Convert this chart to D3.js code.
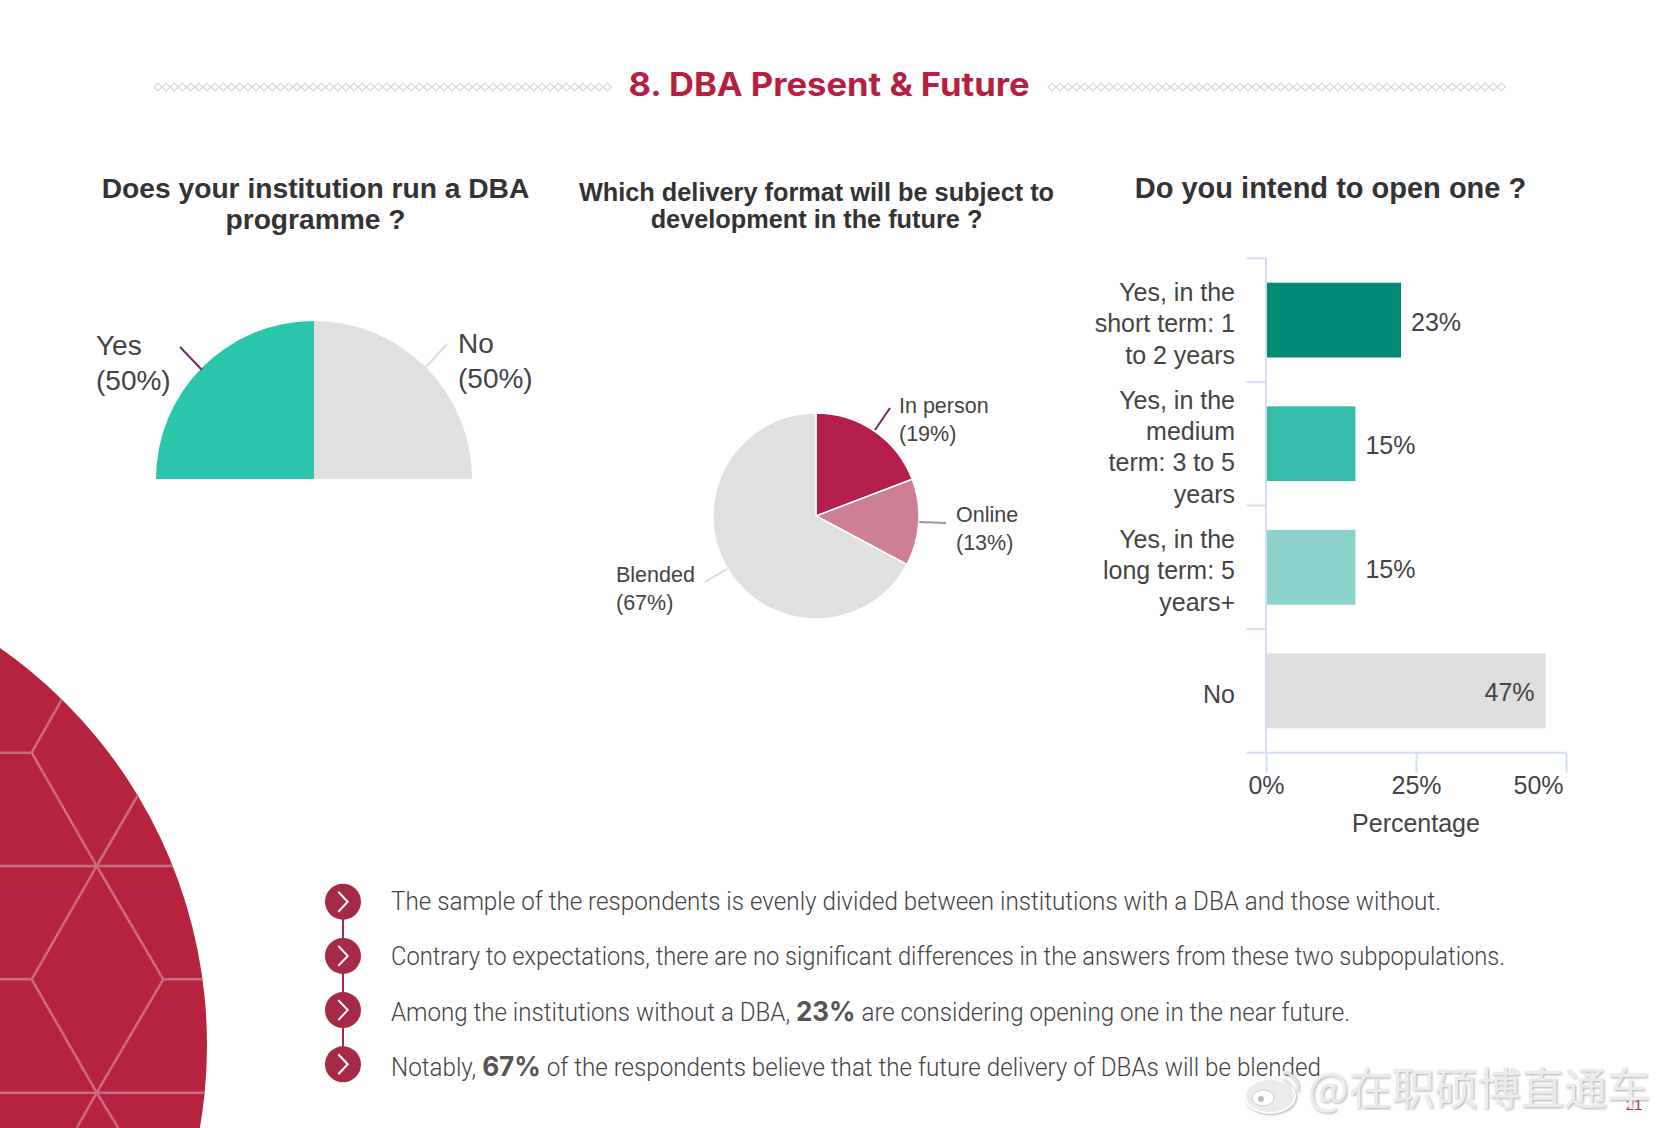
<!DOCTYPE html>
<html lang="en">
<head>
<meta charset="utf-8">
<title>8. DBA Present &amp; Future</title>
<script src="https://d3js.org/d3.v7.min.js"></script>
<style>
	html, body { margin: 0; padding: 0; background: #fff; }
	svg { display: block; }
	text { font-family: "Liberation Sans", Arial, sans-serif; fill: #444; }
</style>
</head>
<body>
<svg id="page" width="1666" height="1128"></svg>
<script>
// first pie: half circle
var dbaLabels = ["Yes", "No"];
var dbaValues = [50, 50];
var dbaPercents = ["(50%)", "(50%)"];

// second pie, values
var formatLabels = ["In person", "Online", "Blended"];
var formatValues = [19.2, 13.6, 67.2];
var formatPercents = ["(19%)", "(13%)", "(67%)"];

// bars, lengths, printed labels are rounded
var openCategories = ["short", "medium", "long", "no"];
var openLines = [
	["Yes, in the", "short term: 1", "to 2 years"],
	["Yes, in the", "medium", "term: 3 to 5", "years"],
	["Yes, in the", "long term: 5", "years+"],
	["No"]
];
var openValues = [22.5, 14.9, 14.9, 46.6];
var openPercents = ["23%", "15%", "15%", "47%"];
var openTicks = [0, 25, 50];

var bullets = [
	[{t: "The sample of the respondents is evenly divided between institutions with a DBA and those without."}],
	[{t: "Contrary to expectations, there are no significant differences in the answers from these two subpopulations."}],
	[{t: "Among the institutions without a DBA, "}, {t: "23%", b: 1}, {t: " are considering opening one in the near future."}],
	[{t: "Notably, "}, {t: "67%", b: 1}, {t: " of the respondents believe that the future delivery of DBAs will be blended"}]
];

var RED = "#b5233f";
var svg = d3.select("#page");

// ---- background disc with the hexagon lines
svg.append("clipPath").attr("id", "disc").append("circle")
	.attr("cx", -277).attr("cy", 1045).attr("r", 484);
var deco = svg.append("g").attr("clip-path", "url(#disc)");
deco.append("rect").attr("width", 300).attr("height", 1128).attr("fill", RED);
var hexLines = [
	[0, 752.7, 31.7, 752.7], [31.7, 752.7, 70, 685], [31.7, 752.7, 96.7, 866],
	[96.7, 866, 145, 783], [0, 866, 200, 866], [96.7, 866, 163.3, 979.3],
	[96.7, 866, 31.7, 979.3], [163.3, 979.3, 96.7, 1092.7], [31.7, 979.3, 96.7, 1092.7],
	[0, 979.3, 31.7, 979.3], [163.3, 979.3, 220, 979.3], [0, 1092.7, 220, 1092.7],
	[96.7, 1092.7, 76.7, 1128], [96.7, 1092.7, 118.3, 1128]
];
deco.selectAll("line").data(hexLines).join("line")
	.attr("x1", d => d[0]).attr("y1", d => d[1]).attr("x2", d => d[2]).attr("y2", d => d[3])
	.attr("stroke", "#cb6b83").attr("stroke-width", 2.5);

// ---- header
svg.append("text").attr("x", 829).attr("y", 96)
	.attr("text-anchor", "middle").attr("textLength", 401).attr("lengthAdjust", "spacingAndGlyphs")
	.style("font-family", "Inter").style("font-weight", 700).style("font-size", "32px").style("fill", "#b71f42")
	.text("8. DBA Present & Future");

function diamonds(x0, x1) {
	var g = svg.append("g").attr("fill", "none").attr("stroke", "#d8d8d8").attr("stroke-width", 1.2);
	g.selectAll("path").data(d3.range(x0, x1, 8.17)).join("path")
		.attr("d", x => "M" + x + " 87l4 -4l4 4l-4 4z");
}
diamonds(154, 608);
diamonds(1048, 1502);

// ---- chart titles
function title(lines, cx, ys, size) {
	lines.forEach(function (l, i) {
		svg.append("text").attr("x", cx).attr("y", ys[i]).attr("text-anchor", "middle")
			.style("font-weight", 700).style("font-size", size + "px").style("fill", "#333").text(l);
	});
}
title(["Does your institution run a DBA", "programme ?"], 315.5, [198, 229], 28.2);
title(["Which delivery format will be subject to", "development in the future ?"], 816.5, [201, 228], 25.3);
title(["Do you intend to open one ?"], 1330.5, [197.5], 29);

function labelBlock(x, y1, y2, a, b, size) {
	svg.append("text").attr("x", x).attr("y", y1).style("font-size", size + "px").text(a);
	svg.append("text").attr("x", x).attr("y", y2).style("font-size", size + "px").text(b);
}
function leader(x1, y1, x2, y2, col) {
	svg.append("line").attr("x1", x1).attr("y1", y1).attr("x2", x2).attr("y2", y2)
		.attr("stroke", col).attr("stroke-width", 2);
}

// ---- half pie
var halfColors = d3.scaleOrdinal().domain(dbaLabels).range(["#2bc6a9", "#e0e0e0"]);
var halfPie = d3.pie().sort(null).startAngle(-Math.PI / 2).endAngle(Math.PI / 2);
var halfArc = d3.arc().innerRadius(0).outerRadius(158);
svg.append("g").attr("transform", "translate(314,479)")
	.selectAll("path").data(halfPie(dbaValues)).join("path")
	.attr("d", halfArc).attr("fill", (d, i) => halfColors(dbaLabels[i]));
leader(180, 347, 202, 370, "#6b2a66");
leader(447, 344, 426, 367, "#dcdcdc");
labelBlock(96, 355, 390, dbaLabels[0], dbaPercents[0], 28);
labelBlock(458, 353, 388, dbaLabels[1], dbaPercents[1], 28);

// ---- full pie
var fmtColors = d3.scaleOrdinal().domain(formatLabels).range(["#b31e4a", "#cd7f94", "#e0e0e0"]);
var fmtArc = d3.arc().innerRadius(0).outerRadius(103);
svg.append("g").attr("transform", "translate(816,516)")
	.selectAll("path").data(d3.pie().sort(null)(formatValues)).join("path")
	.attr("d", fmtArc).attr("fill", (d, i) => fmtColors(formatLabels[i]))
	.attr("stroke", "#fff").attr("stroke-width", 1.5);
leader(890, 408, 875, 430, "#6b2a66");
leader(919, 522, 946, 523, "#b08aa8");
leader(727, 569, 705, 582, "#dcdcdc");
labelBlock(899, 413, 441, formatLabels[0], formatPercents[0], 21.5);
labelBlock(956, 522, 550, formatLabels[1], formatPercents[1], 21.5);
labelBlock(616, 582, 610, formatLabels[2], formatPercents[2], 21.5);

// ---- bars
var AXIS = "#d3def1";
var x = d3.scaleLinear().domain([0, 50]).range([1266, 1566]);
var y = d3.scaleBand().domain(openCategories).range([258.3, 752.7]).paddingInner(0.395).paddingOuter(0.1975);
var barColors = d3.scaleOrdinal().domain(openCategories).range(["#008a74", "#35bcab", "#8dd1cb", "#dedede"]);
var edgeOffset = y.step() * 0.395 / 2;

svg.append("g").selectAll("rect").data(openCategories).join("rect")
	.attr("x", x(0)).attr("y", d => y(d))
	.attr("width", (d, i) => x(openValues[i]) - x(0)).attr("height", y.bandwidth())
	.attr("fill", d => barColors(d));

var xAxis = svg.append("g").attr("transform", "translate(0,752.7)")
	.call(d3.axisBottom(x).tickValues(openTicks).tickFormat(d => d + "%").tickSize(20).tickPadding(0));
xAxis.select(".domain").remove();
xAxis.selectAll("line").attr("stroke", AXIS).attr("stroke-width", 2);
xAxis.selectAll("text").attr("y", 41).attr("dy", 0)
	.style("font-family", '"Liberation Sans"').style("font-size", "25px").style("fill", "#444");
xAxis.selectAll("text").filter(d => d === 50).attr("dx", -28);
xAxis.selectAll(".tick line").filter(d => d === 0).attr("y1", 0).attr("y2", 20);

var rule = svg.append("g").attr("stroke", AXIS).attr("stroke-width", 2);
rule.append("line").attr("x1", 1246.5).attr("x2", x(50) + 1).attr("y1", 752.7).attr("y2", 752.7);
rule.append("line").attr("x1", x(0)).attr("x2", x(0)).attr("y1", 258).attr("y2", 752.7);
rule.selectAll(".cat").data(openCategories).join("line").attr("class", "cat")
	.attr("x1", 1246.5).attr("x2", x(0)).attr("y1", d => y(d) - edgeOffset).attr("y2", d => y(d) - edgeOffset);

openCategories.forEach(function (c, i) {
	var lines = openLines[i];
	var mid = y(c) + y.bandwidth() / 2;
	var first = mid - (lines.length - 1) * 31.4 / 2 + 12;
	lines.forEach(function (l, j) {
		svg.append("text").attr("x", 1235).attr("y", first + j * 31.4).attr("text-anchor", "end")
			.style("font-size", "25px").text(l);
	});
	var inside = openValues[i] > 40;
	svg.append("text")
		.attr("x", inside ? x(openValues[i]) - 11 : x(openValues[i]) + 10)
		.attr("y", mid + 10.5).attr("text-anchor", inside ? "end" : "start")
		.style("font-size", "25px").text(openPercents[i]);
});
svg.append("text").attr("x", x(25)).attr("y", 832).attr("text-anchor", "middle")
	.style("font-size", "25px").text("Percentage");

// ---- bullet list
var bulletY = d3.scalePoint().domain(d3.range(bullets.length)).range([901.7, 1064.3]);
var bulletText = d3.scalePoint().domain(d3.range(bullets.length)).range([909.5, 1076]);
svg.append("line").attr("x1", 343).attr("x2", 343).attr("y1", bulletY(0)).attr("y2", bulletY(3))
	.attr("stroke", "#a52a45").attr("stroke-width", 2);
var rowEnds = [1441, 1505, 1350, 1321];
bullets.forEach(function (parts, i) {
	var cy = bulletY(i);
	svg.append("circle").attr("cx", 343).attr("cy", cy).attr("r", 18).attr("fill", "#a52a45");
	svg.append("path").attr("d", "M" + 338.3 + " " + (cy - 10) + "l9.4 10l-9.4 10")
		.attr("fill", "none").attr("stroke", "#fff").attr("stroke-width", 2);
	var t = svg.append("text").attr("x", 391).attr("y", bulletText(i))
		.style("font-family", "Roboto").style("font-weight", 300).style("font-size", "25px")
		.attr("textLength", rowEnds[i] - 391).attr("lengthAdjust", "spacingAndGlyphs");
	parts.forEach(function (p) {
		var s = t.append("tspan").text(p.t);
		if (p.b) s.style("font-family", "Inter").style("font-weight", 700).style("font-size", "27px").style("fill", "#555");
	});
});

// ---- page number and watermark
svg.append("text").attr("x", 1634).attr("y", 1110).attr("text-anchor", "middle")
	.style("font-size", "15px").style("fill", RED).text("21");

var shadow = svg.append("filter").attr("id", "mark").attr("x", "-5%").attr("y", "-20%").attr("width", "110%").attr("height", "140%");
shadow.append("feDropShadow").attr("dx", 1).attr("dy", 1).attr("stdDeviation", 1)
	.attr("flood-color", "#999").attr("flood-opacity", 0.8);
var logo = svg.append("g").attr("filter", "url(#mark)");
logo.append("ellipse").attr("cx", 1270).attr("cy", 1096).attr("rx", 25).attr("ry", 17)
	.attr("fill", "#ececec").attr("stroke", "#fff").attr("stroke-width", 2);
logo.append("ellipse").attr("cx", 1263).attr("cy", 1098).attr("rx", 11).attr("ry", 8)
	.attr("fill", "#fff").attr("stroke", "#ccc").attr("stroke-width", 1);
logo.append("circle").attr("cx", 1261).attr("cy", 1099).attr("r", 3).attr("fill", "#bbb");
logo.append("path").attr("d", "M1283 1072a17 17 0 0 1 15 19M1283 1080a9 9 0 0 1 7 10")
	.attr("fill", "none").attr("stroke", "#e6e6e6").attr("stroke-width", 3);
svg.append("text").attr("x", 1308).attr("y", 1105)
	.attr("textLength", 342).attr("lengthAdjust", "spacingAndGlyphs")
	.attr("filter", "url(#mark)")
	.style("font-family", '"Noto Sans CJK SC"').style("font-size", "44px")
	.style("fill", "#ececec")
	.text("@在职硕博直通车");
</script>
</body>
</html>
